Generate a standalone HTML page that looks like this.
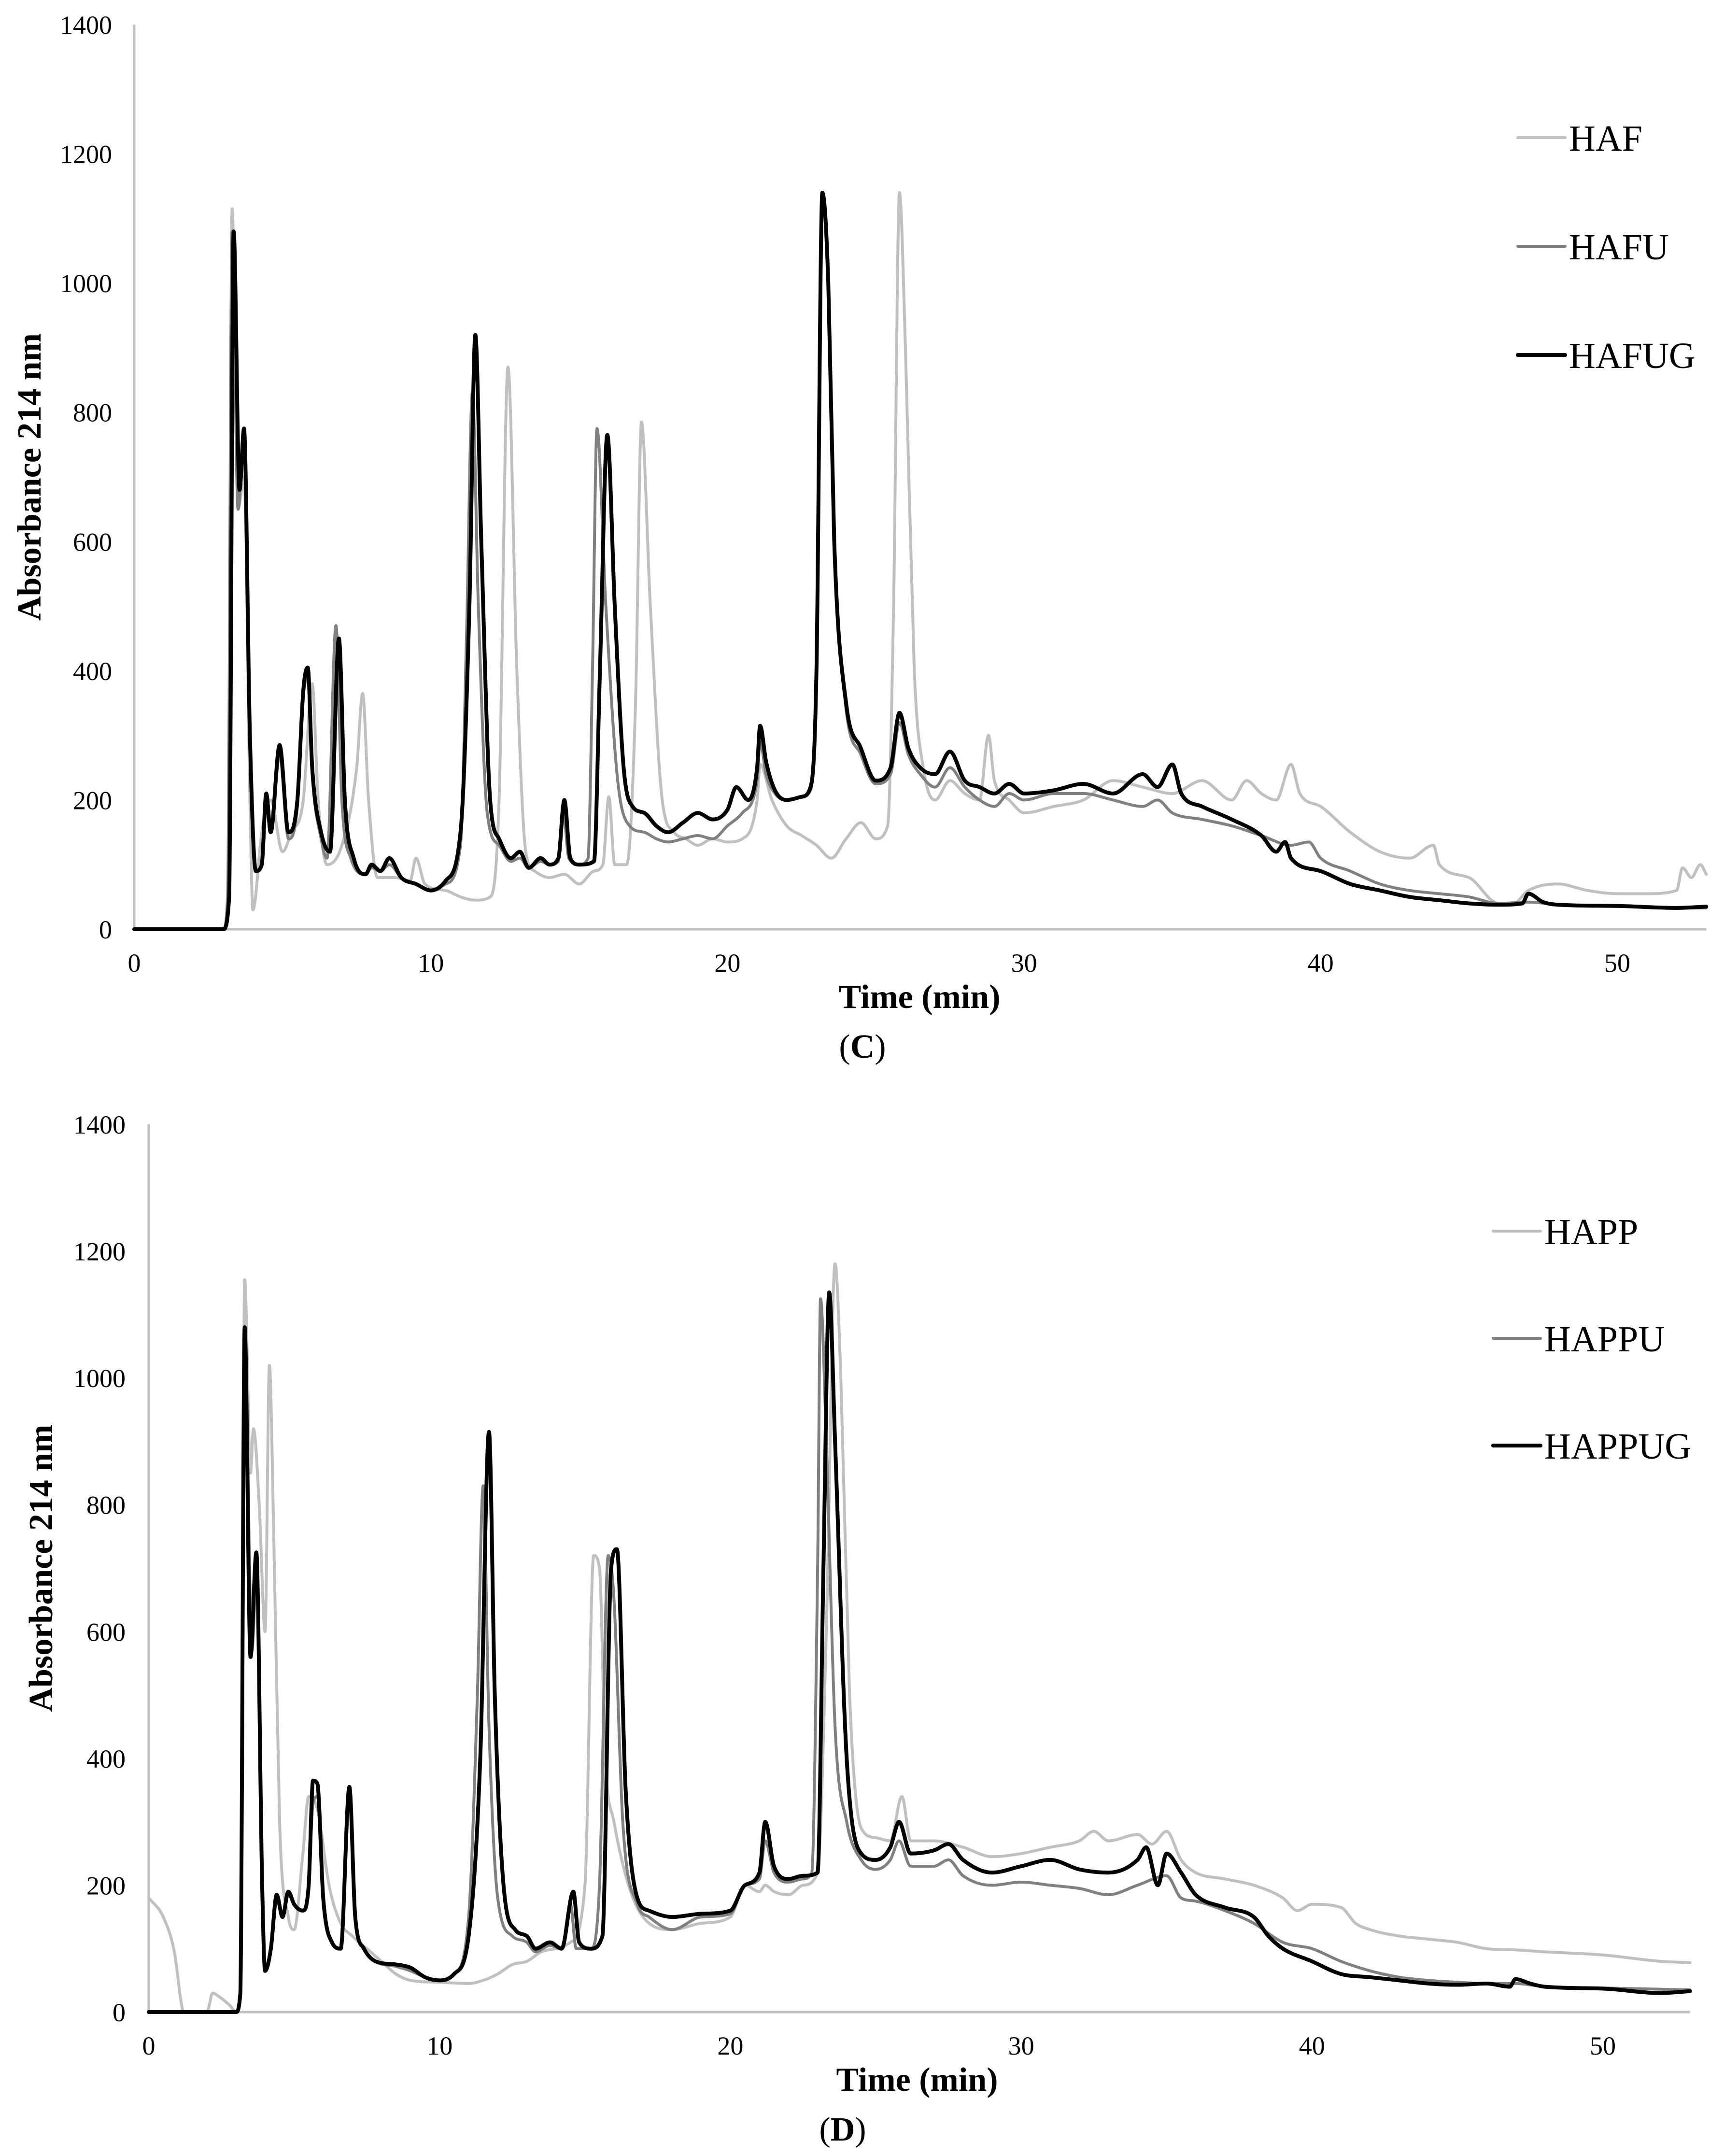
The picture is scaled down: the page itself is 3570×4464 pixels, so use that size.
<!DOCTYPE html>
<html><head><meta charset="utf-8">
<style>
html,body{margin:0;padding:0;background:#fff;}
svg{display:block;font-family:"Liberation Serif",serif;}
</style></head>
<body>
<svg id="fig" width="3570" height="4464" viewBox="0 0 3570 4464" xmlns="http://www.w3.org/2000/svg">
<rect width="3570" height="4464" fill="#fff"/>
</svg>
<script>
// ---- data ----
const xTicks = [0, 10, 20, 30, 40, 50];
const yTicks = [0, 200, 400, 600, 800, 1000, 1200, 1400];
const seriesNamesC = ["HAF", "HAFU", "HAFUG"];
const seriesNamesD = ["HAPP", "HAPPU", "HAPPUG"];
const HAF = [[0,0],[3.0,0],[3.15,60],[3.3,1115],[3.5,650],[3.7,700],[3.9,200],[4.0,30],[4.3,150],[4.6,200],[5.0,120],[5.3,150],[5.7,200],[6.0,380],[6.2,200],[6.5,100],[7.0,130],[7.5,250],[7.7,365],[7.9,200],[8.2,80],[8.8,80],[9.3,75],[9.5,110],[9.8,70],[10.5,60],[11.0,50],[11.5,45],[12.0,50],[12.3,200],[12.6,870],[12.9,400],[13.2,120],[13.5,90],[14.0,80],[14.5,85],[15.0,70],[15.5,90],[15.8,100],[16.0,205],[16.2,100],[16.6,100],[16.9,350],[17.1,785],[17.4,500],[17.8,200],[18.2,150],[18.6,140],[19,130],[19.5,140],[20,135],[20.5,140],[21,200],[21.1,255],[21.5,200],[22,160],[22.5,145],[23,130],[23.5,110],[24,140],[24.5,165],[25,140],[25.4,160],[25.6,500],[25.8,1140],[26.0,900],[26.3,400],[26.6,250],[27,200],[27.5,230],[28,210],[28.5,200],[28.8,300],[29,230],[29.5,200],[30,180],[31,190],[32,200],[33,230],[34,220],[35,210],[36,230],[37,200],[37.5,230],[38,210],[38.5,200],[39,255],[39.3,210],[40,190],[41,150],[42,120],[43,110],[43.8,130],[44,100],[45,80],[46,40],[46.5,40],[47,60],[48,70],[49,60],[50,55],[51,55],[52,60],[52.2,95],[52.5,80],[52.8,100],[53,85]];
const HAFU = [[0,0],[3.0,0],[3.15,50],[3.3,1080],[3.5,650],[3.7,760],[3.9,300],[4.1,90],[4.3,100],[4.45,200],[4.6,150],[4.9,270],[5.2,140],[5.5,190],[5.7,360],[5.85,390],[6.0,240],[6.3,140],[6.5,110],[6.8,470],[7.0,200],[7.3,110],[7.8,85],[8.0,95],[8.3,90],[8.6,100],[9.0,80],[9.5,70],[10.0,60],[10.5,70],[11.0,130],[11.2,450],[11.4,830],[11.6,500],[11.9,180],[12.3,130],[12.7,105],[13.0,110],[13.3,95],[13.7,105],[14.0,100],[14.3,105],[14.45,190],[14.65,110],[15.0,100],[15.3,110],[15.45,400],[15.6,775],[15.9,500],[16.3,230],[16.7,160],[17.2,150],[17.6,140],[18.0,135],[18.5,140],[19.0,145],[19.5,140],[20.0,160],[20.5,180],[21.0,230],[21.1,290],[21.3,240],[21.6,210],[22.0,200],[22.5,205],[22.8,215],[23.0,400],[23.2,1140],[23.4,1000],[23.6,600],[24.0,340],[24.5,270],[25.0,225],[25.5,240],[25.8,320],[26.1,270],[26.5,240],[27.0,220],[27.5,250],[28.0,220],[28.5,200],[29.0,190],[29.5,210],[30,200],[31,210],[32,210],[33,200],[34,190],[34.5,200],[35,180],[36,170],[37,160],[38,145],[39,130],[39.6,135],[40,110],[41,90],[42,70],[43,60],[44,55],[45,50],[46,40],[47,42],[48,38],[50,36],[52,33],[53,33]];
const HAFUG = [[0,0],[3.0,0],[3.2,50],[3.35,1080],[3.55,680],[3.7,775],[3.9,300],[4.1,90],[4.3,100],[4.45,210],[4.6,150],[4.9,285],[5.2,150],[5.5,200],[5.7,370],[5.85,405],[6.0,250],[6.3,150],[6.6,120],[6.9,450],[7.1,200],[7.4,110],[7.8,85],[8.0,100],[8.3,90],[8.6,110],[9.0,80],[9.5,70],[10.0,60],[10.5,75],[11.0,150],[11.3,500],[11.5,920],[11.7,600],[12.0,200],[12.3,140],[12.7,110],[13.0,120],[13.3,95],[13.7,110],[14.0,100],[14.3,110],[14.5,200],[14.7,110],[15.0,100],[15.5,105],[15.7,400],[15.95,765],[16.2,500],[16.5,250],[16.8,190],[17.2,180],[17.6,160],[18.0,150],[18.5,165],[19.0,180],[19.5,170],[20.0,185],[20.3,220],[20.7,200],[21.0,250],[21.1,315],[21.3,260],[21.6,215],[22.0,200],[22.5,205],[22.8,220],[23.0,400],[23.2,1140],[23.4,1000],[23.6,600],[24.0,350],[24.5,280],[25.0,230],[25.5,250],[25.8,335],[26.1,280],[26.5,250],[27.0,240],[27.5,275],[28.0,230],[28.5,220],[29.0,210],[29.5,225],[30,210],[31,215],[32,225],[33,210],[34,240],[34.5,220],[35,255],[35.3,210],[36,190],[37,170],[38,145],[38.5,120],[38.8,135],[39,110],[40,90],[41,70],[42,60],[43,50],[44,45],[45,40],[46,38],[46.8,40],[47,55],[47.5,42],[48,38],[50,36],[52,33],[53,35]];
const HAPP = [[0,180],[0.5,150],[0.9,90],[1.1,20],[1.2,0],[2.0,0],[2.2,30],[2.4,25],[2.8,10],[3.0,0],[3.15,40],[3.3,1155],[3.5,850],[3.6,920],[3.8,800],[4.0,600],[4.15,1020],[4.3,750],[4.5,300],[4.8,150],[5.0,130],[5.3,250],[5.5,340],[5.8,320],[6.2,200],[6.6,140],[7,120],[7.5,100],[8,80],[8.5,60],[9,50],[10,47],[11,45],[11.5,50],[12,60],[12.5,75],[13,80],[13.5,95],[14,100],[14.5,110],[15.0,200],[15.3,720],[15.5,700],[15.7,400],[16.0,300],[16.5,200],[17,150],[18,130],[19,140],[20,150],[20.5,200],[21,190],[21.2,200],[21.5,190],[22,185],[22.5,200],[23,220],[23.3,600],[23.6,1180],[23.8,1000],[24.1,500],[24.5,290],[25,275],[25.5,270],[25.9,340],[26.2,270],[27,270],[28,260],[29,245],[30,250],[31,260],[32,270],[32.5,285],[33,270],[34,280],[34.5,265],[35,285],[35.5,240],[36,220],[37,210],[38,200],[39,180],[39.5,160],[40,170],[41,165],[41.5,140],[42,130],[43,120],[44,115],[45,110],[46,100],[47,98],[48,95],[50,90],[52,80],[53,78]];
const HAPPU = [[0,0],[3.0,0],[3.15,30],[3.3,1070],[3.55,570],[3.7,690],[3.9,200],[4.0,70],[4.2,100],[4.4,180],[4.6,150],[4.8,185],[5.0,170],[5.3,160],[5.5,200],[5.65,330],[5.8,340],[6.0,180],[6.3,110],[6.6,100],[6.9,340],[7.1,150],[7.4,100],[7.8,80],[8.5,72],[9,65],[9.5,55],[10,50],[10.5,60],[11.0,150],[11.3,500],[11.5,830],[11.7,450],[12.0,180],[12.5,120],[13,110],[13.3,95],[13.8,105],[14.2,100],[14.5,170],[14.7,100],[15.2,100],[15.5,200],[15.8,720],[16.0,650],[16.3,300],[16.8,170],[17.2,150],[18,130],[19,150],[20,155],[20.5,200],[21,210],[21.2,270],[21.5,220],[22,205],[22.5,210],[22.8,220],[23.0,700],[23.1,1125],[23.3,900],[23.6,450],[24.0,300],[24.5,240],[25,225],[25.5,240],[25.8,270],[26.2,230],[27,230],[27.5,240],[28,215],[29,200],[30,205],[31,200],[32,195],[33,185],[34,200],[35,215],[35.5,180],[36,175],[37,160],[38,140],[39,110],[40,100],[41,80],[42,65],[43,55],[44,50],[45,47],[46,45],[47,45],[48,40],[50,38],[52,36],[53,35]];
const HAPPUG = [[0,0],[3.0,0],[3.15,30],[3.3,1080],[3.5,560],[3.7,725],[3.9,200],[4.0,65],[4.2,100],[4.4,185],[4.6,150],[4.8,190],[5.0,170],[5.3,160],[5.5,200],[5.65,365],[5.8,360],[6.0,180],[6.3,110],[6.6,100],[6.9,355],[7.1,150],[7.4,100],[7.8,80],[8.5,75],[9,70],[9.5,55],[10,50],[10.5,60],[11.0,120],[11.4,400],[11.7,915],[11.9,500],[12.2,200],[12.6,130],[13,120],[13.3,100],[13.8,110],[14.2,100],[14.6,190],[14.8,110],[15.2,100],[15.6,120],[15.9,700],[16.1,730],[16.4,350],[16.8,180],[17.2,160],[18,150],[19,155],[20,160],[20.5,200],[21,220],[21.2,300],[21.5,230],[22,210],[22.5,215],[23.0,220],[23.2,700],[23.4,1135],[23.6,900],[24.0,400],[24.5,250],[25,240],[25.5,260],[25.8,300],[26.2,250],[27,255],[27.5,265],[28,240],[29,220],[30,230],[31,240],[32,225],[33,220],[34,240],[34.3,260],[34.7,200],[35,250],[35.5,220],[36,185],[37,165],[38,150],[38.5,120],[39,100],[40,80],[41,60],[42,55],[43,50],[44,45],[45,43],[46,45],[46.8,40],[47,52],[47.5,45],[48,40],[50,37],[52,30],[53,33]];

const NS = "http://www.w3.org/2000/svg";
const svg = document.getElementById("fig");
function mk(tag, attrs, parent) {
  const e = document.createElementNS(NS, tag);
  for (const k in attrs) e.setAttribute(k, attrs[k]);
  (parent || svg).appendChild(e);
  return e;
}

// monotone cubic path (Fritsch-Carlson) through pixel points
function monoPath(P) {
  const n = P.length;
  const d = [], m = [];
  for (let i = 0; i < n - 1; i++) {
    const dx = P[i+1][0] - P[i][0];
    d.push(dx === 0 ? 0 : (P[i+1][1] - P[i][1]) / dx);
  }
  m[0] = d[0]; m[n-1] = d[n-2];
  for (let i = 1; i < n - 1; i++) {
    m[i] = (d[i-1] * d[i] <= 0) ? 0 : (d[i-1] + d[i]) / 2;
  }
  for (let i = 0; i < n - 1; i++) {
    if (d[i] === 0) { m[i] = 0; m[i+1] = 0; continue; }
    const a = m[i] / d[i], b = m[i+1] / d[i], s = a*a + b*b;
    if (s > 9) { const t = 3 / Math.sqrt(s); m[i] = t*a*d[i]; m[i+1] = t*b*d[i]; }
  }
  let s = "M" + P[0][0].toFixed(1) + "," + P[0][1].toFixed(1);
  for (let i = 0; i < n - 1; i++) {
    const h = (P[i+1][0] - P[i][0]) / 3;
    s += " C" + (P[i][0]+h).toFixed(1) + "," + (P[i][1]+m[i]*h).toFixed(1) + " " +
      (P[i+1][0]-h).toFixed(1) + "," + (P[i+1][1]-m[i+1]*h).toFixed(1) + " " +
      P[i+1][0].toFixed(1) + "," + P[i+1][1].toFixed(1);
  }
  return s;
}

const colors = ["#c0c0c0", "#808080", "#000000"];
const widths = [6, 6, 8];

function panel(cfg) {
  const g = mk("g", {});
  
  
  const xs = t => cfg.x0 + (t / 50) * (cfg.x50 - cfg.x0);
  const ys = v => cfg.y0 - (v / 1400) * (cfg.y0 - cfg.y1400);
  const ya = mk("line", {x1: cfg.x0, y1: ys(1400), x2: cfg.x0, y2: cfg.y0, stroke: "#bfbfbf", "stroke-width": 5}, g);
  
  
  const xa = mk("line", {x1: cfg.x0, y1: cfg.y0, x2: xs(53), y2: cfg.y0, stroke: "#bfbfbf", "stroke-width": 5}, g);
  
  
  yTicks.forEach(v => {
    const t = mk("text", {x: cfg.yLabelRight, y: ys(v) + 19, "font-size": 54, "text-anchor": "end"}, g);
    t.textContent = v;
    
    
  });
  xTicks.forEach(v => {
    const t = mk("text", {x: xs(v), y: cfg.y0 + 88, "font-size": 54, "text-anchor": "middle"}, g);
    t.textContent = v;
    
    
  });
  cfg.series.forEach((s, i) => {
    const P = s.map(p => [xs(p[0]), ys(p[1])]);
    const pa = mk("path", {d: monoPath(P), fill: "none", stroke: colors[i], "stroke-width": widths[i], "stroke-linejoin": "round", "stroke-linecap": "round"}, g);
    
    
  });
  cfg.names.forEach((n, i) => {
    const ly = cfg.legY[i];
    const lg = mk("g", {}, g);
    
    
    mk("line", {x1: cfg.legX1, y1: ly, x2: cfg.legX2, y2: ly, stroke: colors[i], "stroke-width": widths[i], "stroke-linecap": "round"}, lg);
    const t = mk("text", {x: cfg.legX2 + 8, y: ly + 27, "font-size": 76}, lg);
    t.textContent = n;
  });
  const xt = mk("text", {x: cfg.xTitleX, y: cfg.y0 + 163, "font-size": 70, "font-weight": "bold", "text-anchor": "middle"}, g);
  xt.textContent = "Time (min)";
  
  
  const cy = (cfg.y0 + ys(1400)) / 2;
  const yt = mk("text", {x: cfg.yTitleX, y: cy, "font-size": 70, "font-weight": "bold", "text-anchor": "middle", transform: "rotate(-90 " + cfg.yTitleX + " " + cy + ")"}, g);
  yt.textContent = "Absorbance 214 nm";
  
  
  const pl = mk("text", {x: cfg.panelX, y: cfg.y0 + 266, "font-size": 70, "text-anchor": "middle"}, g);
  pl.innerHTML = '(<tspan font-weight="bold">' + cfg.label + '</tspan>)';
  
  
}

panel({name: "panel-c", x0: 278, x50: 3349, y0: 1924, y1400: 51, yLabelRight: 232,
  series: [HAF, HAFU, HAFUG], names: seriesNamesC,
  legX1: 3143, legX2: 3241, legY: [285, 510, 735],
  xTitleX: 1904, yTitleX: 84, panelX: 1786, label: "C"});
panel({name: "panel-d", x0: 308, x50: 3319, y0: 4166, y1400: 2328, yLabelRight: 260,
  series: [HAPP, HAPPU, HAPPUG], names: seriesNamesD,
  legX1: 3092, legX2: 3190, legY: [2549, 2771, 2993],
  xTitleX: 1899, yTitleX: 108, panelX: 1745, label: "D"});
</script>
</body></html>
